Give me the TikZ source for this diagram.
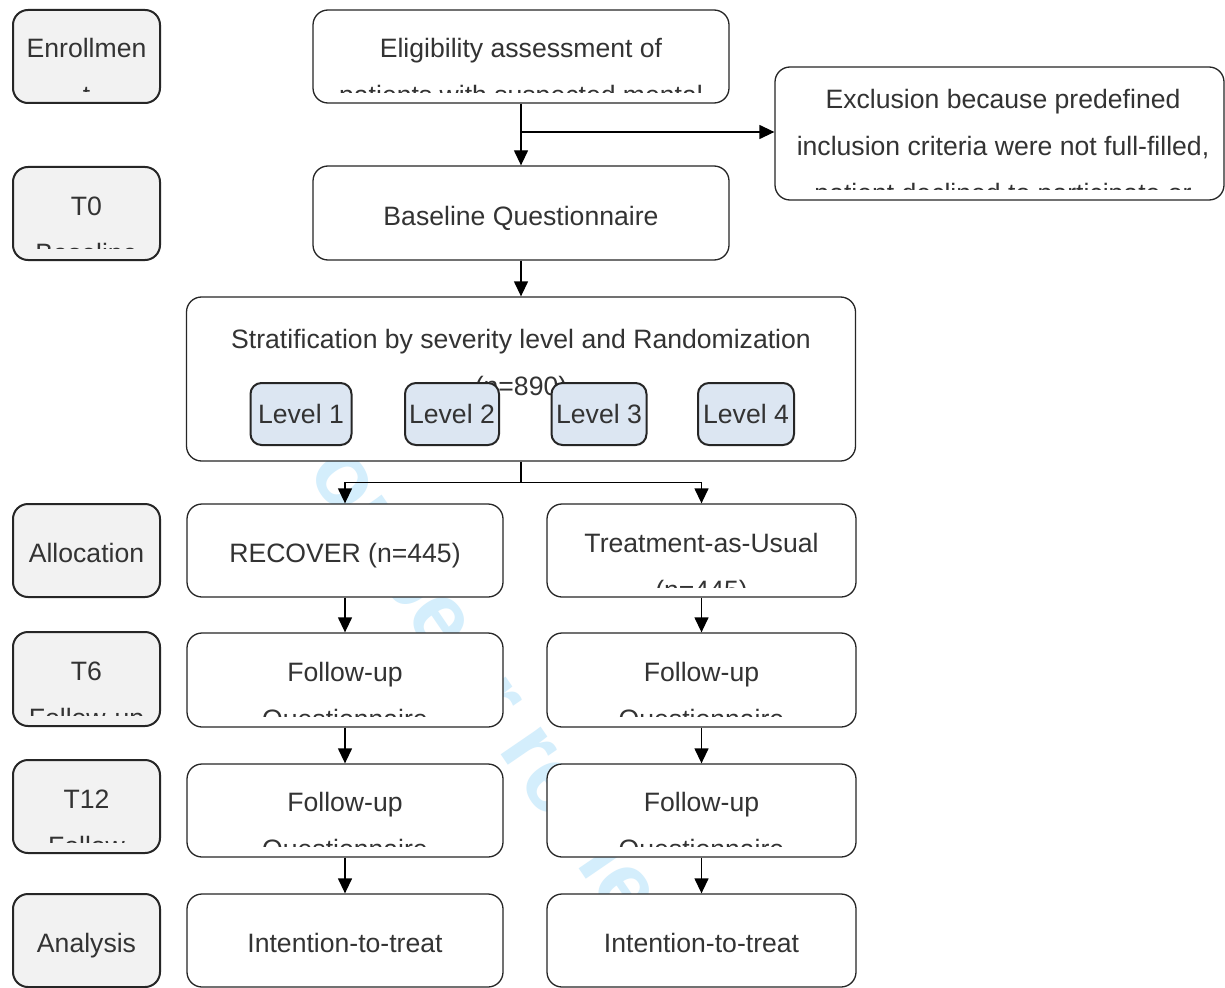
\documentclass[tikz,border=0pt]{standalone}
\usepackage{fontspec}
\setmainfont{Liberation Sans}
\usetikzlibrary{arrows.meta}
\definecolor{txt}{HTML}{333333}
\definecolor{lbl}{HTML}{F2F2F2}
\definecolor{lvl}{HTML}{DCE6F2}
\definecolor{wm}{RGB}{212,238,252}
\definecolor{edge}{HTML}{262626}
\begin{document}
\begin{tikzpicture}[x=1pt,y=-1pt,
  box/.style={draw=edge, line width=1.3pt, rounded corners=15pt, fill=white, inner sep=0pt},
  lab/.style={box, fill=lbl, line width=2pt},
  lev/.style={box, fill=lvl, line width=2pt, rounded corners=11pt},
  t/.style={anchor=base, text=txt, font=\fontsize{26.6}{30}\selectfont, inner sep=0pt},
  wmk/.style={anchor=base west, text=wm, font=\bfseries\fontsize{92}{100}\selectfont, inner sep=0pt, rotate=-55.6},
  arr/.style={-{Triangle[length=15pt,width=14pt]}, line width=1.3pt, black},
  ln/.style={line width=1.3pt, black}]
\useasboundingbox (0,0) rectangle (1225,987);
\fill[white] (0,0) rectangle (1225,987);
% watermark
\node[wmk] (wmark) at (275,425) {For peer review only};
% left labels
\node[lab, minimum width=147pt, minimum height=93pt] (enr) at (86.5,56.5) {};
\node[lab, minimum width=147pt, minimum height=93pt] (t0) at (86.5,213.5) {};
\node[lab, minimum width=147pt, minimum height=93pt] (alloc) at (86.5,550.5) {};
\node[lab, minimum width=147pt, minimum height=94pt] (t6) at (86.5,679) {};
\node[lab, minimum width=147pt, minimum height=93pt] (t12) at (86.5,806.5) {};
\node[lab, minimum width=147pt, minimum height=93pt] (ana) at (86.5,940.5) {};
% main boxes
\node[box, minimum width=416pt, minimum height=93pt] (elig) at (521,56.5) {};
\node[box, minimum width=449pt, minimum height=133pt] (excl) at (999.5,133.5) {};
\node[box, minimum width=416pt, minimum height=94pt] (base) at (521,213) {};
\node[box, minimum width=669pt, minimum height=164pt] (strat) at (521,379) {};
\node[box, minimum width=316pt, minimum height=93pt] (rec) at (345,550.5) {};
\node[box, minimum width=309pt, minimum height=93pt] (tau) at (701.5,550.5) {};
\node[box, minimum width=316pt, minimum height=94pt] (fu1l) at (345,680) {};
\node[box, minimum width=309pt, minimum height=94pt] (fu1r) at (701.5,680) {};
\node[box, minimum width=316pt, minimum height=93pt] (fu2l) at (345,810.5) {};
\node[box, minimum width=309pt, minimum height=93pt] (fu2r) at (701.5,810.5) {};
\node[box, minimum width=316pt, minimum height=93pt] (itl) at (345,940.5) {};
\node[box, minimum width=309pt, minimum height=93pt] (itr) at (701.5,940.5) {};
% texts: left labels
\node[t] (enr1) at (86.5,58) {Enrollmen};
\begin{scope}\clip (13,10) rectangle (160,92);
\node[t] (enr2) at (86.5,105) {t};
\end{scope}
\node[t] (t01) at (86.5,215.5) {T0};
\begin{scope}\clip (13,167) rectangle (160,248);
\node[t] (t02) at (86.5,262.5) {Baseline};
\end{scope}
\node[t] (alloc1) at (86.5,562.5) {Allocation};
\node[t] (t61) at (86.5,680.5) {T6};
\begin{scope}\clip (13,632) rectangle (160,715);
\node[t] (t62) at (86.5,727.5) {Follow-up};
\end{scope}
\node[t] (t121) at (86.5,808.5) {T12};
\begin{scope}\clip (13,760) rectangle (160,842);
\node[t] (t122) at (86.5,855.5) {Follow};
\end{scope}
\node[t] (ana1) at (86.5,952.5) {Analysis};
% texts: main
\node[t] (elig1) at (521,58) {Eligibility assessment of};
\begin{scope}\clip (313,10) rectangle (729,93);
\node[t] (elig2) at (521,105) {patients with suspected mental};
\end{scope}
\node[t] (excl1) at (1003,109) {Exclusion because predefined};
\node[t] (excl2) at (1003,156) {inclusion criteria were not full-filled,};
\begin{scope}\clip (775,67) rectangle (1225,190);
\node[t] (excl3) at (1003,203) {patient declined to participate or};
\end{scope}
\node[t] (base1) at (521,225) {Baseline Questionnaire};
\node[t] (strat1) at (521,348.5) {Stratification by severity level and Randomization};
\node[t] (strat2) at (521,395) {(n=890)};
\node[lev, minimum width=101pt, minimum height=62pt] (lv1) at (301,414) {};
\node[lev, minimum width=94pt, minimum height=62pt] (lv2) at (452,414) {};
\node[lev, minimum width=95pt, minimum height=62pt] (lv3) at (599,414) {};
\node[lev, minimum width=96pt, minimum height=62pt] (lv4) at (746,414) {};
\node[t] (lv1t) at (301,423.5) {Level 1};
\node[t] (lv2t) at (452,423.5) {Level 2};
\node[t] (lv3t) at (599,423.5) {Level 3};
\node[t] (lv4t) at (746,423.5) {Level 4};
\node[t] (rec1) at (345,562.5) {RECOVER (n=445)};
\node[t] (tau1) at (701.5,552.5) {Treatment-as-Usual};
\begin{scope}\clip (547,504) rectangle (856,587);
\node[t] (tau2) at (701.5,599.5) {(n=445)};
\end{scope}
\node[t] (fu1lt) at (345,681.5) {Follow-up};
\node[t] (fu1rt) at (701.5,681.5) {Follow-up};
\begin{scope}\clip (187,633) rectangle (856,716);
\node[t] (fu1lq) at (345,728.5) {Questionnaire};
\node[t] (fu1rq) at (701.5,728.5) {Questionnaire};
\end{scope}
\node[t] (fu2lt) at (345,811.5) {Follow-up};
\node[t] (fu2rt) at (701.5,811.5) {Follow-up};
\begin{scope}\clip (187,764) rectangle (856,846);
\node[t] (fu2lq) at (345,858.5) {Questionnaire};
\node[t] (fu2rq) at (701.5,858.5) {Questionnaire};
\end{scope}
\node[t] (itlt) at (345,952.5) {Intention-to-treat};
\node[t] (itrt) at (701.5,952.5) {Intention-to-treat};
% connectors
\draw[arr] (elig.south) -- (base.north);
\coordinate (br) at (521,132);
\draw[arr] (br) -- (br -| excl.west);
\draw[arr] (base.south) -- (strat.north);
\draw[ln] (strat.south) -- ++(0,21) coordinate (sp);
\draw[arr] (sp) -| (rec.north);
\draw[arr] (sp) -| (tau.north);
\draw[arr] (rec.south) -- (fu1l.north);
\draw[arr] (fu1l.south) -- (fu2l.north);
\draw[arr] (fu2l.south) -- (itl.north);
\draw[arr] (tau.south) -- (fu1r.north);
\draw[arr] (fu1r.south) -- (fu2r.north);
\draw[arr] (fu2r.south) -- (itr.north);
\end{tikzpicture}
\end{document}
